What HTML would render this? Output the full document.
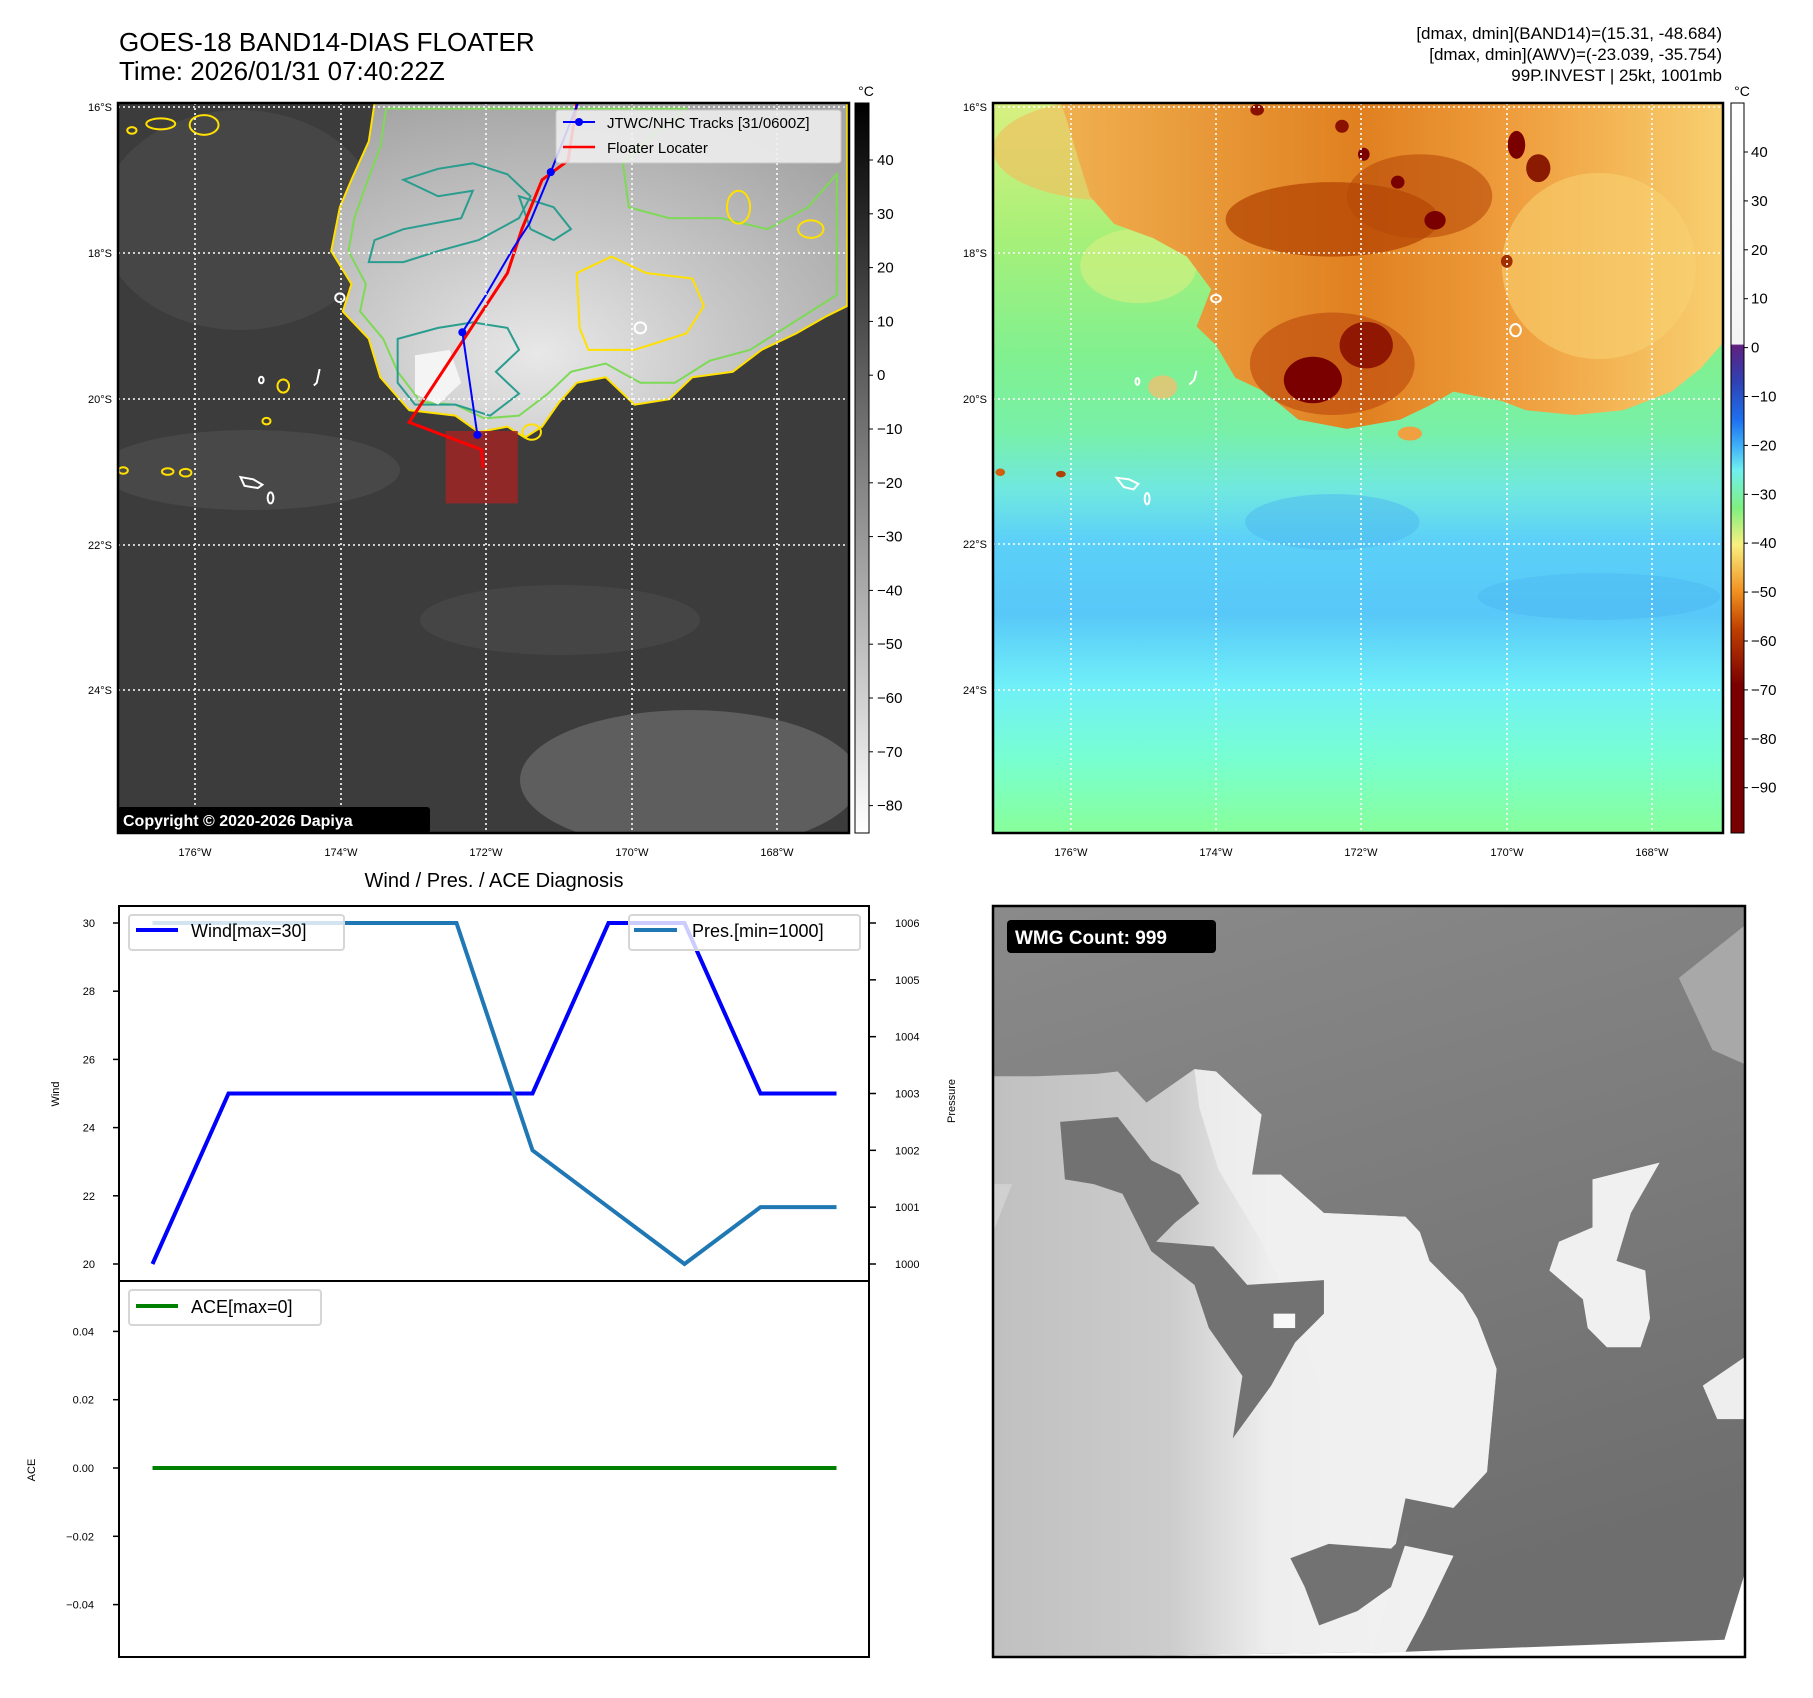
<!DOCTYPE html>
<html><head><meta charset="utf-8">
<style>
html,body{margin:0;padding:0;background:#fff;}
svg text{font-family:"Liberation Sans","DejaVu Sans",sans-serif;}
</style></head>
<body>
<svg id="fig" width="1813" height="1693" viewBox="0 0 1813 1693" xmlns="http://www.w3.org/2000/svg">
<defs>
  <clipPath id="clipL"><rect x="118" y="103" width="731" height="730"/></clipPath>
  <clipPath id="clipR"><rect x="993" y="103" width="730" height="730"/></clipPath>
  <clipPath id="clipB"><rect x="993" y="906" width="752" height="751"/></clipPath>
  <linearGradient id="cbGray" x1="0" y1="0" x2="0" y2="1"><stop offset="0" stop-color="#000"/><stop offset="1" stop-color="#fff"/></linearGradient>
  <linearGradient id="cbColor" x1="0" y1="0" x2="0" y2="1">
    <stop offset="0" stop-color="#ffffff"/><stop offset="0.33" stop-color="#f4f4f4"/>
    <stop offset="0.332" stop-color="#602080"/><stop offset="0.38" stop-color="#3040b0"/>
    <stop offset="0.434" stop-color="#1e70f0"/><stop offset="0.47" stop-color="#40b0f8"/>
    <stop offset="0.503" stop-color="#70f0f0"/><stop offset="0.555" stop-color="#80f080"/>
    <stop offset="0.605" stop-color="#f8f080"/><stop offset="0.67" stop-color="#f09020"/>
    <stop offset="0.72" stop-color="#c04000"/><stop offset="0.797" stop-color="#7a0000"/>
    <stop offset="1" stop-color="#780000"/></linearGradient>
  <linearGradient id="rBg" x1="0" y1="0" x2="0" y2="1">
    <stop offset="0" stop-color="#d8f080"/><stop offset="0.18" stop-color="#a8f078"/>
    <stop offset="0.35" stop-color="#80f090"/><stop offset="0.45" stop-color="#78f0a8"/>
    <stop offset="0.53" stop-color="#70e8e0"/><stop offset="0.6" stop-color="#5cd0f8"/>
    <stop offset="0.7" stop-color="#58c8f8"/><stop offset="0.8" stop-color="#70f0f8"/>
    <stop offset="0.9" stop-color="#78ffd0"/><stop offset="1" stop-color="#88ff9a"/></linearGradient>
  <linearGradient id="rOr" x1="0" y1="0" x2="1" y2="0">
    <stop offset="0" stop-color="#f0b050"/><stop offset="0.45" stop-color="#e08020"/>
    <stop offset="0.7" stop-color="#f0a040"/><stop offset="1" stop-color="#f8d070"/></linearGradient>
  <radialGradient id="lCloud" cx="0.4" cy="0.75" r="0.8">
    <stop offset="0" stop-color="#e8e8e8"/><stop offset="0.45" stop-color="#c8c8c8"/><stop offset="1" stop-color="#a4a4a4"/></radialGradient>
  <linearGradient id="bBg" x1="0" y1="0" x2="0.3" y2="1">
    <stop offset="0" stop-color="#8a8a8a"/><stop offset="1" stop-color="#6e6e6e"/></linearGradient>
  <linearGradient id="bLight" x1="0" y1="0" x2="1" y2="0">
    <stop offset="0" stop-color="#c0c0c0"/><stop offset="0.35" stop-color="#cccccc"/><stop offset="0.55" stop-color="#eeeeee"/><stop offset="1" stop-color="#f4f4f4"/></linearGradient>
</defs>

<!-- Titles -->
<text x="119" y="51" font-size="26">GOES-18 BAND14-DIAS FLOATER</text>
<text x="119" y="80" font-size="26">Time: 2026/01/31 07:40:22Z</text>
<g font-size="17" text-anchor="end">
  <text x="1722" y="39">[dmax, dmin](BAND14)=(15.31, -48.684)</text>
  <text x="1722" y="60">[dmax, dmin](AWV)=(-23.039, -35.754)</text>
  <text x="1722" y="81">99P.INVEST | 25kt, 1001mb</text>
</g>

<!-- LEFT MAP -->
<g clip-path="url(#clipL)">
  <rect x="118" y="103" width="731" height="730" fill="#3c3c3c"/>
  <ellipse cx="240" cy="220" rx="140" ry="110" fill="#484848" opacity="0.8"/>
  <ellipse cx="250" cy="470" rx="150" ry="40" fill="#505050" opacity="0.6"/>
  <ellipse cx="690" cy="780" rx="170" ry="70" fill="#666" opacity="0.8"/>
  <ellipse cx="560" cy="620" rx="140" ry="35" fill="#484848" opacity="0.7"/>
  <g transform="translate(118,103) scale(0.5778,0.5485) translate(-206,-190)">
    <polygon fill="url(#lCloud)" stroke="#ffe000" stroke-width="2" vector-effect="non-scaling-stroke"
      points="650,190 640,260 610,330 590,380 575,460 610,520 595,570 640,620 660,690 710,750 790,760 830,790 880,780 910,800 940,780 970,735 1000,700 1050,690 1100,740 1160,730 1200,690 1270,680 1320,640 1380,610 1430,580 1468,560 1468,190"/>
    <polygon fill="none" stroke="#7ed957" stroke-width="2" vector-effect="non-scaling-stroke"
      points="670,200 660,270 635,340 615,400 605,460 635,520 625,570 665,620 690,680 730,735 790,740 840,765 900,760 950,720 990,680 1050,665 1110,700 1170,700 1230,660 1300,640 1360,600 1450,540 1450,320 1400,380 1330,420 1250,400 1160,400 1090,380 1080,300 1130,250 1190,200"/>
    <polygon fill="none" stroke="#2a9d8f" stroke-width="2" vector-effect="non-scaling-stroke"
      points="700,330 760,360 820,350 800,400 700,420 650,440 640,480 700,480 760,460 830,440 900,400 920,360 880,320 820,300 760,310"/>
    <polygon fill="none" stroke="#2a9d8f" stroke-width="2" vector-effect="non-scaling-stroke"
      points="690,620 760,600 820,590 880,600 900,640 860,680 900,720 850,760 790,740 720,740 690,700"/>
    <polygon fill="#f4f4f4" stroke="none" points="720,650 780,640 800,700 760,740 720,720"/>
    <polygon fill="none" stroke="#2a9d8f" stroke-width="2" vector-effect="non-scaling-stroke"
      points="900,360 960,380 990,420 960,440 920,420"/>
    <polygon fill="none" stroke="#ffe000" stroke-width="2" vector-effect="non-scaling-stroke"
      points="1000,500 1060,470 1120,500 1200,510 1220,560 1190,610 1100,640 1020,640 1005,600"/>
    <g fill="none" stroke="#ffe000" stroke-width="2">
      <ellipse cx="280" cy="228" rx="25" ry="10" vector-effect="non-scaling-stroke"/>
      <ellipse cx="230" cy="240" rx="8" ry="6" vector-effect="non-scaling-stroke"/>
      <ellipse cx="355" cy="230" rx="25" ry="18" vector-effect="non-scaling-stroke"/>
      <ellipse cx="215" cy="860" rx="8" ry="6" vector-effect="non-scaling-stroke"/>
      <ellipse cx="292" cy="862" rx="10" ry="6" vector-effect="non-scaling-stroke"/>
      <ellipse cx="323" cy="864" rx="10" ry="7" vector-effect="non-scaling-stroke"/>
      <ellipse cx="463" cy="770" rx="7" ry="6" vector-effect="non-scaling-stroke"/>
      <ellipse cx="492" cy="706" rx="10" ry="12" vector-effect="non-scaling-stroke"/>
      <ellipse cx="922" cy="790" rx="16" ry="14" vector-effect="non-scaling-stroke"/>
      <ellipse cx="1280" cy="380" rx="20" ry="30" vector-effect="non-scaling-stroke"/>
      <ellipse cx="1405" cy="420" rx="22" ry="16" vector-effect="non-scaling-stroke"/>
    </g>
    <g fill="none" stroke="#fff" stroke-width="2">
      <polygon points="418,872 440,876 456,886 448,892 425,888" vector-effect="non-scaling-stroke"/>
      <ellipse cx="470" cy="910" rx="5" ry="10" vector-effect="non-scaling-stroke"/>
      <ellipse cx="1110" cy="600" rx="10" ry="10" vector-effect="non-scaling-stroke"/>
      <ellipse cx="590" cy="545" rx="8" ry="8" vector-effect="non-scaling-stroke"/>
      <ellipse cx="454" cy="695" rx="4" ry="6" vector-effect="non-scaling-stroke"/>
      <polyline points="555,675 550,700 545,705" vector-effect="non-scaling-stroke"/>
    </g>
    <rect x="773" y="788" width="125" height="132" fill="#a02424" opacity="0.85"/>
    <polyline fill="none" stroke="#ff0000" stroke-width="3" vector-effect="non-scaling-stroke"
      points="1000,190 985,295 940,330 905,420 880,500 710,772 835,822 838,855"/>
    <polyline fill="none" stroke="#0000ff" stroke-width="2" vector-effect="non-scaling-stroke"
      points="1002,190 955,316 918,410 890,455 840,545 802,608 828,795"/>
    <g fill="#0000ff">
      <ellipse cx="955" cy="316" rx="7" ry="7.3"/>
      <ellipse cx="802" cy="608" rx="7" ry="7.3"/>
      <ellipse cx="828" cy="795" rx="7" ry="7.3"/>
    </g>
  </g>
  <g stroke="#fff" stroke-width="1.6" stroke-dasharray="2,3">
    <line x1="195" y1="103" x2="195" y2="833"/><line x1="341" y1="103" x2="341" y2="833"/>
    <line x1="486" y1="103" x2="486" y2="833"/><line x1="632" y1="103" x2="632" y2="833"/>
    <line x1="777" y1="103" x2="777" y2="833"/>
    <line x1="118" y1="107" x2="849" y2="107"/><line x1="118" y1="253" x2="849" y2="253"/>
    <line x1="118" y1="399" x2="849" y2="399"/><line x1="118" y1="545" x2="849" y2="545"/>
    <line x1="118" y1="690" x2="849" y2="690"/>
  </g>
  <g>
    <rect x="556" y="110" width="285" height="53" fill="#f2f2f2" opacity="0.85" stroke="#ccc" rx="3"/>
    <line x1="563" y1="122" x2="595" y2="122" stroke="#0000ff" stroke-width="2"/>
    <circle cx="579" cy="122" r="4" fill="#0000ff"/>
    <line x1="563" y1="147" x2="595" y2="147" stroke="#ff0000" stroke-width="2.5"/>
    <text x="607" y="128" font-size="15">JTWC/NHC Tracks [31/0600Z]</text>
    <text x="607" y="153" font-size="15">Floater Locater</text>
  </g>
  <rect x="117" y="807" width="313" height="26" rx="3" fill="#000"/>
  <text x="123" y="826" font-size="16" font-weight="bold" fill="#fff">Copyright © 2020-2026 Dapiya</text>
</g>
<rect x="118" y="103" width="731" height="730" fill="none" stroke="#000" stroke-width="2.5"/>
<g font-size="11" text-anchor="end">
  <text x="112" y="111">16°S</text><text x="112" y="257">18°S</text><text x="112" y="403">20°S</text>
  <text x="112" y="549">22°S</text><text x="112" y="694">24°S</text></g>
<g font-size="11" text-anchor="middle">
  <text x="195" y="856">176°W</text><text x="341" y="856">174°W</text><text x="486" y="856">172°W</text>
  <text x="632" y="856">170°W</text><text x="777" y="856">168°W</text></g>
<rect x="855" y="103" width="14" height="730" fill="url(#cbGray)" stroke="#000" stroke-width="1"/>
<text x="866" y="96" font-size="14" text-anchor="middle">°C</text>
<g id="cbLTicks" font-size="15"></g>

<!-- RIGHT MAP -->
<g clip-path="url(#clipR)">
  <rect x="993" y="103" width="730" height="730" fill="url(#rBg)"/>
  <g transform="translate(993,103) scale(0.4847,0.4656)">
    <ellipse cx="250" cy="100" rx="250" ry="110" fill="#f0c060" opacity="0.7"/>
    <ellipse cx="300" cy="350" rx="120" ry="80" fill="#d8f080" opacity="0.6"/>
    <polygon fill="url(#rOr)" points="430,0 1510,0 1510,510 1460,570 1400,620 1300,660 1200,670 1100,660 1050,640 950,620 900,650 840,680 730,700 630,680 560,620 500,590 460,520 420,480 450,400 400,330 330,290 250,260 200,200 170,100 150,30 140,0"/>
    <ellipse cx="1250" cy="350" rx="200" ry="200" fill="#f8d070" opacity="0.6"/>
    <ellipse cx="700" cy="250" rx="220" ry="80" fill="#b04000" opacity="0.7"/>
    <ellipse cx="880" cy="200" rx="150" ry="90" fill="#b84a08" opacity="0.6"/>
    <ellipse cx="700" cy="560" rx="170" ry="110" fill="#c05010" opacity="0.7"/>
    <ellipse cx="660" cy="595" rx="60" ry="50" fill="#7a0000"/>
    <ellipse cx="770" cy="520" rx="55" ry="50" fill="#8a1000" opacity="0.9"/>
    <ellipse cx="1080" cy="90" rx="18" ry="30" fill="#7a0000"/>
    <ellipse cx="1125" cy="140" rx="25" ry="30" fill="#8a1a00"/>
    <ellipse cx="912" cy="252" rx="22" ry="20" fill="#7a0000"/>
    <ellipse cx="765" cy="110" rx="12" ry="14" fill="#7a0000"/>
    <ellipse cx="835" cy="170" rx="14" ry="14" fill="#7a0000"/>
    <ellipse cx="720" cy="50" rx="14" ry="14" fill="#8a1000"/>
    <ellipse cx="545" cy="15" rx="14" ry="12" fill="#8a1000"/>
    <ellipse cx="1060" cy="340" rx="12" ry="14" fill="#a03000"/>
    <ellipse cx="15" cy="793" rx="10" ry="8" fill="#d06010"/>
    <ellipse cx="140" cy="797" rx="10" ry="7" fill="#b04000"/>
    <ellipse cx="860" cy="710" rx="25" ry="15" fill="#f0a040"/>
    <ellipse cx="350" cy="610" rx="30" ry="25" fill="#f0c070" opacity="0.8"/>
    <ellipse cx="700" cy="900" rx="180" ry="60" fill="#4cb8f0" opacity="0.5"/>
    <ellipse cx="1250" cy="1060" rx="250" ry="50" fill="#4cb8f0" opacity="0.5"/>
    <g fill="none" stroke="#fff" stroke-width="2">
      <polygon points="255,805 280,808 300,818 290,830 270,825" vector-effect="non-scaling-stroke"/>
      <ellipse cx="318" cy="850" rx="5" ry="12" vector-effect="non-scaling-stroke"/>
      <ellipse cx="1078" cy="488" rx="11" ry="13" vector-effect="non-scaling-stroke"/>
      <ellipse cx="460" cy="420" rx="10" ry="8" vector-effect="non-scaling-stroke"/>
      <ellipse cx="298" cy="598" rx="4" ry="7" vector-effect="non-scaling-stroke"/>
      <polyline points="420,575 415,595 405,605" vector-effect="non-scaling-stroke"/>
    </g>
  </g>
  <g stroke="#fff" stroke-width="1.6" stroke-dasharray="2,3">
    <line x1="1071" y1="103" x2="1071" y2="833"/><line x1="1216" y1="103" x2="1216" y2="833"/>
    <line x1="1361" y1="103" x2="1361" y2="833"/><line x1="1507" y1="103" x2="1507" y2="833"/>
    <line x1="1652" y1="103" x2="1652" y2="833"/>
    <line x1="993" y1="107" x2="1723" y2="107"/><line x1="993" y1="253" x2="1723" y2="253"/>
    <line x1="993" y1="399" x2="1723" y2="399"/><line x1="993" y1="544" x2="1723" y2="544"/>
    <line x1="993" y1="690" x2="1723" y2="690"/>
  </g>
</g>
<rect x="993" y="103" width="730" height="730" fill="none" stroke="#000" stroke-width="2.5"/>
<g font-size="11" text-anchor="end">
  <text x="987" y="111">16°S</text><text x="987" y="257">18°S</text><text x="987" y="403">20°S</text>
  <text x="987" y="548">22°S</text><text x="987" y="694">24°S</text></g>
<g font-size="11" text-anchor="middle">
  <text x="1071" y="856">176°W</text><text x="1216" y="856">174°W</text><text x="1361" y="856">172°W</text>
  <text x="1507" y="856">170°W</text><text x="1652" y="856">168°W</text></g>
<rect x="1731" y="103" width="13" height="730" fill="url(#cbColor)" stroke="#000" stroke-width="1"/>
<text x="1742" y="96" font-size="14" text-anchor="middle">°C</text>
<g id="cbRTicks" font-size="15"></g>

<!-- DIAGNOSIS CHART -->
<text x="494" y="887" font-size="20" text-anchor="middle">Wind / Pres. / ACE Diagnosis</text>
<g id="chart"></g>
<rect x="119" y="906" width="750" height="375" fill="none" stroke="#000" stroke-width="2"/>
<rect x="119" y="1281" width="750" height="376" fill="none" stroke="#000" stroke-width="2"/>
<text transform="translate(59,1094) rotate(-90)" font-size="11" text-anchor="middle">Wind</text>
<text transform="translate(35,1470) rotate(-90)" font-size="11" text-anchor="middle">ACE</text>
<text transform="translate(955,1101) rotate(-90)" font-size="11" text-anchor="middle">Pressure</text>
<g>
  <rect x="129" y="915" width="215" height="35" rx="3" fill="#fff" fill-opacity="0.8" stroke="#d6d6d6" stroke-width="2"/>
  <line x1="136" y1="930" x2="178" y2="930" stroke="#0000ff" stroke-width="4"/>
  <text x="191" y="937" font-size="18">Wind[max=30]</text></g>
<g>
  <rect x="629" y="915" width="231" height="35" rx="3" fill="#fff" fill-opacity="0.8" stroke="#d6d6d6" stroke-width="2"/>
  <line x1="634" y1="930" x2="677" y2="930" stroke="#1f77b4" stroke-width="4"/>
  <text x="692" y="937" font-size="18">Pres.[min=1000]</text></g>
<g>
  <rect x="129" y="1290" width="192" height="35" rx="3" fill="#fff" fill-opacity="0.8" stroke="#d6d6d6" stroke-width="2"/>
  <line x1="136" y1="1306" x2="178" y2="1306" stroke="#008000" stroke-width="4"/>
  <text x="191" y="1313" font-size="18">ACE[max=0]</text></g>

<!-- WMG PANEL -->
<g clip-path="url(#clipB)">
  <rect x="993" y="906" width="752" height="751" fill="#fff"/>
  <g transform="translate(993,906) scale(0.4796)">
    <polygon fill="url(#bBg)" points="0,0 1568,0 1568,1390 1525,1530 860,1555 0,1568"/>
    <polygon fill="url(#bLight)" points="0,355 90,355 215,350 260,345 320,410 420,340 465,345 560,435 540,560 600,560 690,640 860,648 890,680 910,740 980,810 1010,860 1050,965 1030,1180 960,1255 860,1235 840,1330 960,1355 900,1480 860,1555 0,1568"/>
    <polygon fill="#f0f0f0" opacity="0.8" points="420,340 465,345 560,435 540,560 600,560 690,640 860,648 890,680 910,740 980,810 1010,860 1050,965 1030,1180 960,1255 860,1235 840,1330 960,1355 900,1480 860,1555 790,1560 830,1420 760,1250 700,1050 640,880 560,700 470,550 430,420"/>
    <polygon fill="#727272" points="140,450 260,440 330,530 390,560 430,620 380,660 340,700 460,710 530,790 690,780 690,850 630,910 580,1000 500,1110 520,980 450,880 420,790 330,720 300,660 270,600 210,580 150,570"/>
    <polygon fill="#727272" points="620,1360 700,1330 830,1340 870,1300 830,1420 760,1470 680,1500 650,1420"/>
    <rect x="585" y="850" width="45" height="30" fill="#f8f8f8"/>
    <polygon fill="#f0f0f0" points="1250,570 1390,535 1330,640 1300,740 1360,760 1370,860 1350,920 1280,920 1240,880 1230,820 1160,760 1180,700 1250,670"/>
    <polygon fill="#eeeeee" points="1480,1000 1568,940 1568,1070 1510,1070"/>
    <polygon fill="#a8a8a8" points="1430,150 1568,40 1568,330 1500,300"/>
    <polygon fill="#d0d0d0" points="0,580 40,580 0,680"/>
  </g>
  <rect x="1007" y="920" width="209" height="33" rx="4" fill="#000"/>
  <text x="1015" y="944" font-size="19" font-weight="bold" fill="#fff">WMG Count: 999</text>
</g>
<rect x="993" y="906" width="752" height="751" fill="none" stroke="#000" stroke-width="2.5"/>
</svg>
<script>
// ---- chart data ----
const timeIndex = [0,1,2,3,4,5,6,7,8,9];
const windValues = [20,25,25,25,25,25,30,30,25,25];
const pressureValues = [1006,1006,1006,1006,1006,1002,1001,1000,1001,1001];
const aceValues = [0,0,0,0,0,0,0,0,0,0];
const windTicks = [20,22,24,26,28,30];
const pressureTicks = [1000,1001,1002,1003,1004,1005,1006];
const aceTicks = [-0.04,-0.02,0.00,0.02,0.04];
const aceTickLabels = ["\u22120.04","\u22120.02","0.00","0.02","0.04"];
const leftCbTicks = [40,30,20,10,0,-10,-20,-30,-40,-50,-60,-70,-80];
const rightCbTicks = [40,30,20,10,0,-10,-20,-30,-40,-50,-60,-70,-80,-90];

const NS = "http://www.w3.org/2000/svg";
function xS(i){ return 152.5 + (i - 0) * (836.5 - 152.5) / 9; }
function yWind(v){ return 1264 + (v - 20) * (923 - 1264) / 10; }
function yPres(v){ return 1264 + (v - 1000) * (923 - 1264) / 6; }
function yAce(v){ return 1468 - v * (68.3 / 0.02); }
function yCbL(v){ return 160 + (40 - v) * 5.38; }
function yCbR(v){ return 152 + (40 - v) * 4.89; }
function mk(tag, attrs, parent){ const e = document.createElementNS(NS, tag); for (const k in attrs) e.setAttribute(k, attrs[k]); parent.appendChild(e); return e; }
function lbl(v){ return v < 0 ? "\u2212" + Math.abs(v) : String(v); }

const chart = document.getElementById("chart");
function series(vals, yf, color, name){
  const pts = vals.map((v, k) => xS(timeIndex[k]) + "," + yf(v)).join(" ");
  const p = mk("polyline", {points: pts, fill: "none", stroke: color, "stroke-width": 4, "stroke-linejoin": "miter"}, chart);
  
  
}
series(windValues, yWind, "#0000ff", "wind-line");
series(pressureValues, yPres, "#1f77b4", "pressure-line");
series(aceValues, yAce, "#008000", "ace-line");

windTicks.forEach(v => {
  const y = yWind(v);
  mk("line", {x1: 113, x2: 119, y1: y, y2: y, stroke: "#000", "stroke-width": 1.5}, chart);
  const t = mk("text", {x: 95, y: y + 4, "font-size": 11, "text-anchor": "end"}, chart);
  t.textContent = v;
  
  
});
pressureTicks.forEach(v => {
  const y = yPres(v);
  mk("line", {x1: 869, x2: 876, y1: y, y2: y, stroke: "#000", "stroke-width": 1.5}, chart);
  const t = mk("text", {x: 895, y: y + 4, "font-size": 11}, chart);
  t.textContent = v;
  
  
});
aceTicks.forEach((v, k) => {
  const y = yAce(v);
  mk("line", {x1: 113, x2: 119, y1: y, y2: y, stroke: "#000", "stroke-width": 1.5}, chart);
  const t = mk("text", {x: 94, y: y + 4, "font-size": 11, "text-anchor": "end"}, chart);
  t.textContent = aceTickLabels[k];
  
  
});

const gl = document.getElementById("cbLTicks");
leftCbTicks.forEach(v => {
  const y = yCbL(v);
  mk("line", {x1: 869, x2: 873, y1: y, y2: y, stroke: "#000"}, gl);
  const t = mk("text", {x: 877, y: y + 5}, gl);
  t.textContent = lbl(v);
  
  
});
const gr = document.getElementById("cbRTicks");
rightCbTicks.forEach(v => {
  const y = yCbR(v);
  mk("line", {x1: 1744, x2: 1748, y1: y, y2: y, stroke: "#000"}, gr);
  const t = mk("text", {x: 1751, y: y + 5}, gr);
  t.textContent = lbl(v);
  
  
});
</script>
</body></html>
